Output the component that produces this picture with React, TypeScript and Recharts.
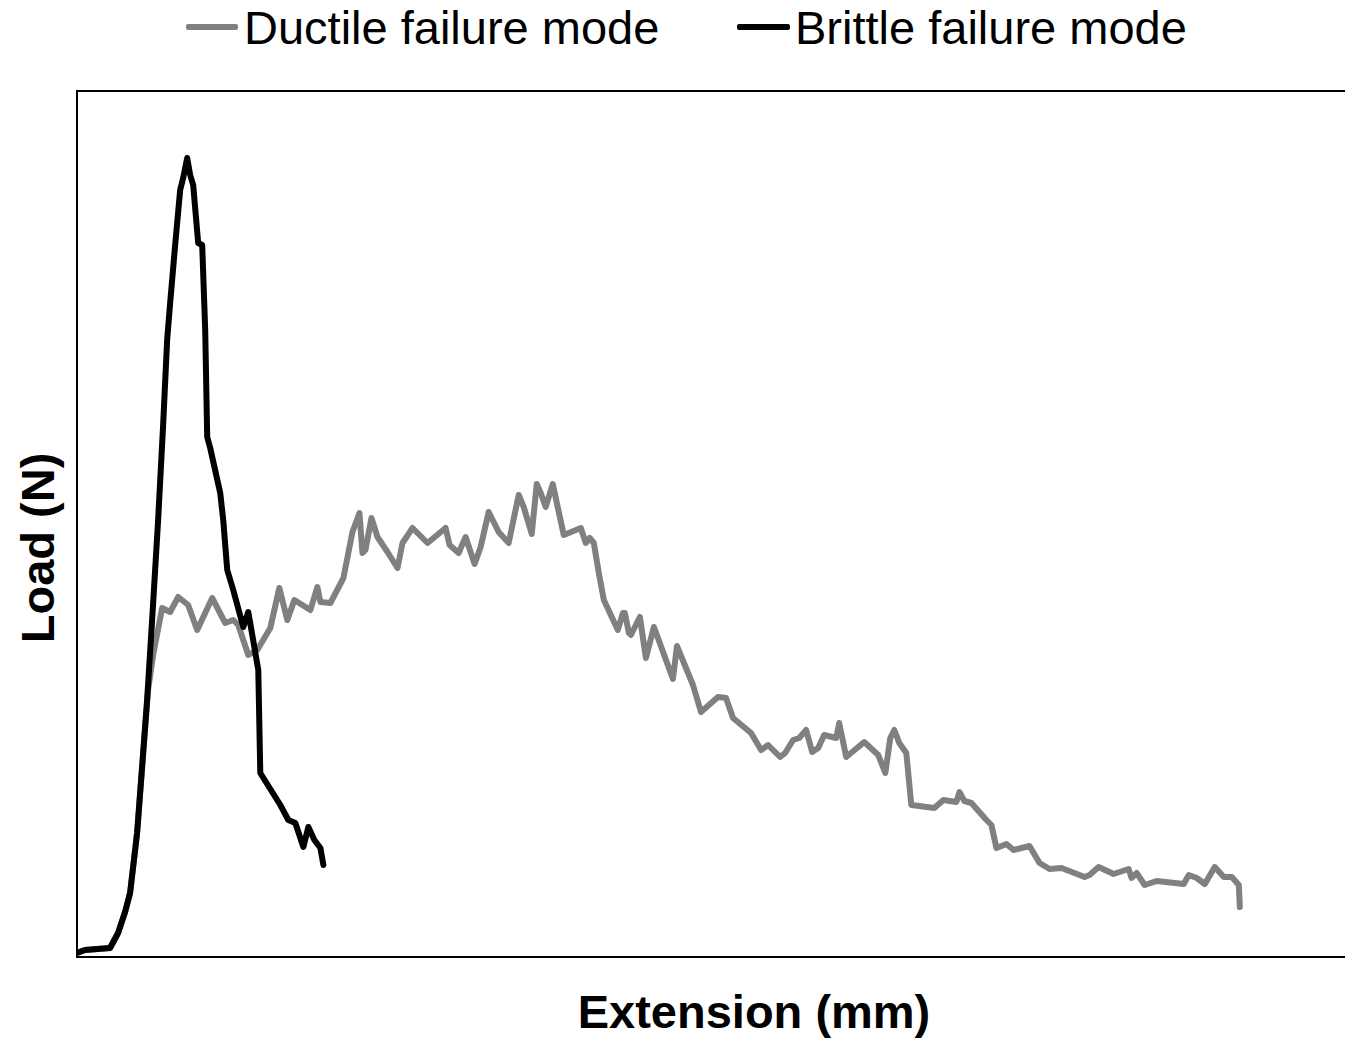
import React from 'react';
import { LineChart, Line, XAxis, YAxis, ReferenceArea, Legend } from 'recharts';

// Extension (mm) and Load (N)
const brittleExt = [0.00,0.08,0.33,0.41,0.48,0.53,0.60,0.65,0.70,0.75,0.81,0.86,0.90,0.93,0.98,1.03,1.06,1.10,1.13,1.16,1.21,1.25,1.28,1.30,1.33,1.43,1.46,1.50,1.56,1.66,1.71,1.75,1.81,1.83,1.93,2.03,2.11,2.18,2.26,2.31,2.37,2.43,2.46];
const brittleLoad = [4,7,9,24,45,64,124,190,257,337,437,532,617,654,712,767,779,799,782,772,714,712,627,520,509,464,437,387,367,330,345,322,287,184,168,152,137,134,110,130,117,109,92];

const ductileExt = [0.00,0.08,0.33,0.41,0.48,0.53,0.60,0.65,0.71,0.76,0.85,0.93,1.01,1.11,1.20,1.35,1.48,1.56,1.61,1.71,1.80,1.93,2.02,2.10,2.17,2.33,2.40,2.43,2.53,2.66,2.75,2.82,2.85,2.88,2.94,3.00,3.10,3.20,3.25,3.35,3.50,3.68,3.72,3.81,3.88,3.97,4.03,4.11,4.21,4.31,4.41,4.46,4.54,4.59,4.63,4.68,4.75,4.86,5.03,5.08,5.12,5.16,5.21,5.26,5.40,5.45,5.47,5.51,5.53,5.62,5.68,5.76,5.95,5.99,6.15,6.23,6.40,6.48,6.55,6.73,6.83,6.90,7.02,7.07,7.15,7.21,7.28,7.34,7.40,7.46,7.58,7.61,7.68,7.86,8.00,8.07,8.12,8.16,8.21,8.28,8.33,8.56,8.65,8.78,8.81,8.86,8.93,9.08,9.13,9.18,9.28,9.35,9.51,9.61,9.71,9.83,10.06,10.11,10.20,10.35,10.50,10.53,10.58,10.66,10.78,11.05,11.10,11.18,11.26,11.36,11.45,11.53,11.60,11.61];
const ductileLoad = [4,7,9,24,45,64,124,190,267,302,349,345,360,352,327,359,334,337,332,302,307,329,369,337,357,347,370,355,354,379,425,444,404,407,439,420,405,389,414,429,414,429,412,404,420,393,410,445,425,414,462,450,423,473,464,450,473,422,429,414,419,414,384,357,327,344,344,324,322,340,299,330,278,311,272,245,260,259,239,224,207,212,200,204,217,219,227,205,209,222,219,234,200,215,202,184,219,227,214,204,152,149,157,155,165,156,154,137,132,109,113,107,111,94,88,89,80,82,90,83,88,79,84,72,76,73,82,79,73,90,80,80,72,50];

const seriesNames = ['Ductile failure mode', 'Brittle failure mode'];
const seriesColors = ['#808080', '#000000'];
const xLabel = 'Extension (mm)';
const yLabel = 'Load (N)';
const xMax = 12.68;
const yMax = 866;

const brittleData = brittleExt.map((x, i) => ({ x, y: brittleLoad[i] }));
const ductileData = ductileExt.map((x, i) => ({ x, y: ductileLoad[i] }));

const FONT = '"Liberation Sans", Arial, sans-serif';

const LegendContent = () => (
  <div style={{ position: 'relative', width: 1345, height: 60, fontFamily: FONT, fontSize: 47, lineHeight: 1, color: '#000' }}>
    <div style={{ position: 'absolute', left: 186, top: 24, width: 52, height: 6, background: seriesColors[0], borderRadius: 2 }} />
    <div style={{ position: 'absolute', left: 244, top: 4, whiteSpace: 'nowrap' }}>{seriesNames[0]}</div>
    <div style={{ position: 'absolute', left: 737, top: 24, width: 53, height: 6, background: seriesColors[1], borderRadius: 2 }} />
    <div style={{ position: 'absolute', left: 795, top: 4, whiteSpace: 'nowrap' }}>{seriesNames[1]}</div>
  </div>
);

export default function App() {
  return (
    <div style={{ position: 'relative', width: 1345, height: 1038, background: '#fff', overflow: 'hidden' }}>
      <style>{`body{margin:0;background:#fff}`}</style>
      <LineChart width={1347} height={1038} margin={{ top: 31, right: 0, bottom: 81, left: 77 }}>
        <XAxis type="number" dataKey="x" domain={[0, xMax]} allowDataOverflow tick={false} tickLine={false} axisLine={false} height={0} />
        <YAxis type="number" dataKey="y" domain={[0, yMax]} allowDataOverflow tick={false} tickLine={false} axisLine={false} width={0} />
        <ReferenceArea x1={0} x2={xMax} y1={0} y2={yMax} fill="none" stroke="#000" strokeWidth={2} ifOverflow="visible" />
        <Legend verticalAlign="top" align="left" wrapperStyle={{ top: 0, left: 0, width: 1345, height: 60 }} content={LegendContent} />
        <Line data={ductileData} dataKey="y" name={seriesNames[0]} type="linear" stroke={seriesColors[0]} strokeWidth={6} dot={false} strokeLinejoin="round" strokeLinecap="round" isAnimationActive={false} />
        <Line data={brittleData} dataKey="y" name={seriesNames[1]} type="linear" stroke={seriesColors[1]} strokeWidth={6} dot={false} strokeLinejoin="round" strokeLinecap="round" isAnimationActive={false} />
      </LineChart>
      <div style={{ position: 'absolute', left: 754, top: 988, transform: 'translateX(-50%)', fontFamily: FONT, fontWeight: 'bold', fontSize: 47, lineHeight: 1, whiteSpace: 'nowrap', color: '#000' }}>{xLabel}</div>
      <div style={{ position: 'absolute', left: 37, top: 548, transform: 'translate(-50%, -50%) rotate(-90deg)', fontFamily: FONT, fontWeight: 'bold', fontSize: 47, lineHeight: 1, whiteSpace: 'nowrap', color: '#000' }}>{yLabel}</div>
    </div>
  );
}
